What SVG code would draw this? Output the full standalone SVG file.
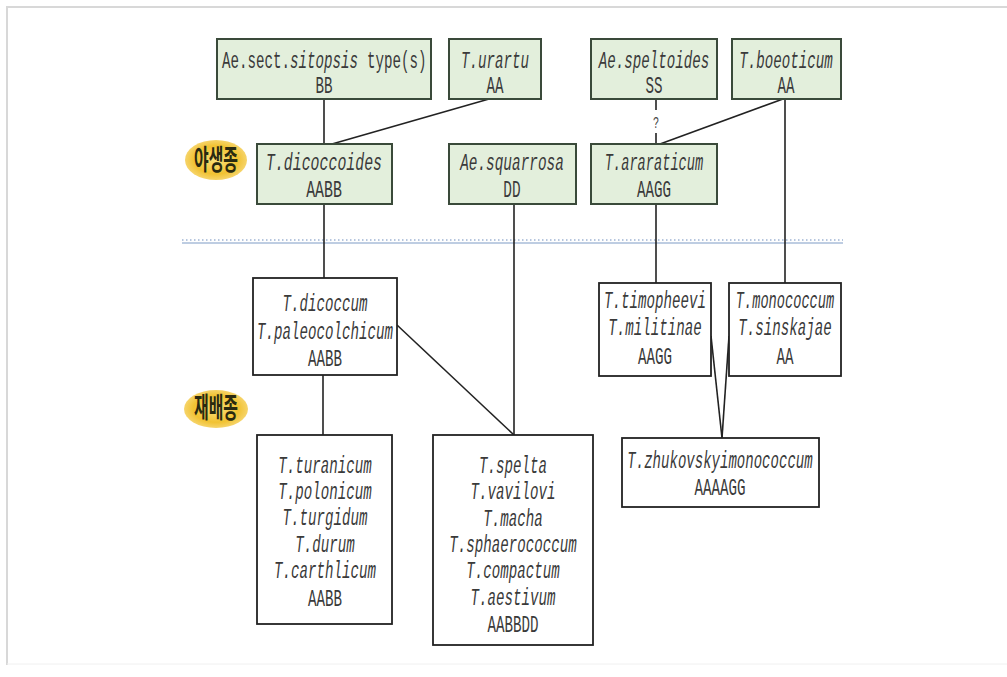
<svg xmlns="http://www.w3.org/2000/svg" width="1007" height="677" viewBox="0 0 1007 677">
<defs>
<style>
.g{fill:#e3efdc;stroke:#3a4a3a;stroke-width:2}
.w{fill:#ffffff;stroke:#222;stroke-width:1.8}
.t{font-family:"Liberation Mono",monospace;font-size:24px;fill:#3a3a3a;text-anchor:middle}
.s{text-anchor:start}
.i{font-style:italic}
.c{stroke:#222;stroke-width:1.6;fill:none}
.k{font-family:"Noto Sans CJK KR",sans-serif;font-weight:bold;font-size:28px;fill:#2a2a10;text-anchor:middle;dominant-baseline:central}
</style>
<radialGradient id="gold" cx="50%" cy="50%" r="50%">
<stop offset="0" stop-color="#fbe07a"/>
<stop offset="0.7" stop-color="#f1c232"/>
<stop offset="1" stop-color="#f6d46a"/>
</radialGradient>
</defs>
<rect x="0" y="0" width="1007" height="677" fill="#ffffff"/>
<g id="frame" stroke="#d8d8d8" fill="none">
<line x1="6" y1="7" x2="1007" y2="7" stroke-width="2"/>
<line x1="7" y1="7" x2="7" y2="665" stroke-width="2"/>
<line x1="7" y1="664" x2="1007" y2="664" stroke="#f0f0f0" stroke-width="1"/>
</g>
<g id="divider">
<line x1="182" y1="240" x2="843" y2="240" stroke="#9fb4d4" stroke-width="1.5" stroke-dasharray="1.5,2.5"/>
<line x1="182" y1="243" x2="843" y2="243" stroke="#a8bcd8" stroke-width="1.5"/>
</g>
<g id="connectors">
<line class="c" x1="324" y1="99" x2="324" y2="144"/>
<line class="c" x1="489" y1="99" x2="332" y2="144"/>
<line class="c" x1="656" y1="99" x2="656" y2="110"/>
<line class="c" x1="656" y1="133" x2="656" y2="144"/>
<line class="c" x1="783" y1="99" x2="660" y2="144"/>
<line class="c" x1="785" y1="99" x2="785" y2="283"/>
<line class="c" x1="324" y1="204" x2="324" y2="278"/>
<line class="c" x1="514" y1="204" x2="514" y2="435"/>
<line class="c" x1="656" y1="204" x2="656" y2="283"/>
<line class="c" x1="397" y1="325" x2="514" y2="435"/>
<line class="c" x1="323" y1="375" x2="323" y2="435"/>
<line class="c" x1="711" y1="336" x2="722" y2="438"/>
<line class="c" x1="729" y1="336" x2="722" y2="438"/>
<text transform="translate(656,128) scale(0.6,1)" style="font-family:'Liberation Mono',monospace;font-size:17px;fill:#444;text-anchor:middle">?</text>
</g>
<g id="label-wild">
<ellipse cx="216" cy="160" rx="31" ry="20" fill="url(#gold)"/>
<text class="k" transform="translate(216,158) scale(0.57,1)">야생종</text>
</g>
<g id="label-cultivated">
<ellipse cx="216" cy="409" rx="32" ry="19" fill="url(#gold)"/>
<text class="k" transform="translate(216,406) scale(0.57,1)">재배종</text>
</g>
<g id="sitopsis">
<rect class="g" x="217" y="39" width="214" height="60"/>
<text class="t s" transform="translate(222,68) scale(0.59,1)">Ae.sect.</text>
<text class="t s i" transform="translate(290,68) scale(0.59,1)">sitopsis</text>
<text class="t s" transform="translate(367,68) scale(0.59,1)">type(s)</text>
<text class="t" transform="translate(324,93) scale(0.59,1)">BB</text>
</g>
<g id="urartu">
<rect class="g" x="449" y="39" width="92" height="60"/>
<text class="t i" transform="translate(495,68) scale(0.59,1)">T.urartu</text>
<text class="t" transform="translate(495,93) scale(0.59,1)">AA</text>
</g>
<g id="speltoides">
<rect class="g" x="591" y="39" width="126" height="60"/>
<text class="t i" transform="translate(654,68) scale(0.59,1)">Ae.speltoides</text>
<text class="t" transform="translate(654,93) scale(0.59,1)">SS</text>
</g>
<g id="boeoticum">
<rect class="g" x="732" y="39" width="109" height="60"/>
<text class="t i" transform="translate(786,68) scale(0.59,1)">T.boeoticum</text>
<text class="t" transform="translate(786,93) scale(0.59,1)">AA</text>
</g>
<g id="dicoccoides">
<rect class="g" x="257" y="144" width="135" height="60"/>
<text class="t i" transform="translate(324,170) scale(0.62,1)">T.dicoccoides</text>
<text class="t" transform="translate(324,197) scale(0.62,1)">AABB</text>
</g>
<g id="squarrosa">
<rect class="g" x="449" y="144" width="127" height="60"/>
<text class="t i" transform="translate(512,170) scale(0.6,1)">Ae.squarrosa</text>
<text class="t" transform="translate(512,197) scale(0.6,1)">DD</text>
</g>
<g id="araraticum">
<rect class="g" x="591" y="144" width="126" height="60"/>
<text class="t i" transform="translate(654,170) scale(0.57,1)">T.araraticum</text>
<text class="t" transform="translate(654,197) scale(0.59,1)">AAGG</text>
</g>
<g id="dicoccum">
<rect class="w" x="253" y="278" width="144" height="97"/>
<text class="t i" transform="translate(325,311) scale(0.59,1)">T.dicoccum</text>
<text class="t i" transform="translate(325,339) scale(0.59,1)">T.paleocolchicum</text>
<text class="t" transform="translate(325,366) scale(0.59,1)">AABB</text>
</g>
<g id="timopheevi">
<rect class="w" x="599" y="283" width="112" height="93"/>
<text class="t i" transform="translate(655,308) scale(0.59,1)">T.timopheevi</text>
<text class="t i" transform="translate(655,335) scale(0.59,1)">T.militinae</text>
<text class="t" transform="translate(655,364) scale(0.59,1)">AAGG</text>
</g>
<g id="monococcum">
<rect class="w" x="729" y="283" width="112" height="93"/>
<text class="t i" transform="translate(785,308) scale(0.57,1)">T.monococcum</text>
<text class="t i" transform="translate(785,335) scale(0.59,1)">T.sinskajae</text>
<text class="t" transform="translate(785,364) scale(0.59,1)">AA</text>
</g>
<g id="zhukovsky">
<rect class="w" x="622" y="438" width="197" height="69"/>
<text class="t i" transform="translate(720,468) scale(0.585,1)">T.zhukovskyimonococcum</text>
<text class="t" transform="translate(720,495) scale(0.59,1)">AAAAGG</text>
</g>
<g id="turgidum-group">
<rect class="w" x="257" y="435" width="135" height="189"/>
<text class="t i" transform="translate(325,473) scale(0.59,1)">T.turanicum</text>
<text class="t i" transform="translate(325,499) scale(0.59,1)">T.polonicum</text>
<text class="t i" transform="translate(325,525) scale(0.59,1)">T.turgidum</text>
<text class="t i" transform="translate(325,552) scale(0.59,1)">T.durum</text>
<text class="t i" transform="translate(325,578) scale(0.59,1)">T.carthlicum</text>
<text class="t" transform="translate(325,606) scale(0.59,1)">AABB</text>
</g>
<g id="aestivum-group">
<rect class="w" x="433" y="435" width="160" height="210"/>
<text class="t i" transform="translate(513,473) scale(0.59,1)">T.spelta</text>
<text class="t i" transform="translate(513,499) scale(0.59,1)">T.vavilovi</text>
<text class="t i" transform="translate(513,526) scale(0.59,1)">T.macha</text>
<text class="t i" transform="translate(513,552) scale(0.59,1)">T.sphaerococcum</text>
<text class="t i" transform="translate(513,578) scale(0.59,1)">T.compactum</text>
<text class="t i" transform="translate(513,605) scale(0.59,1)">T.aestivum</text>
<text class="t" transform="translate(513,632) scale(0.59,1)">AABBDD</text>
</g>
</svg>
